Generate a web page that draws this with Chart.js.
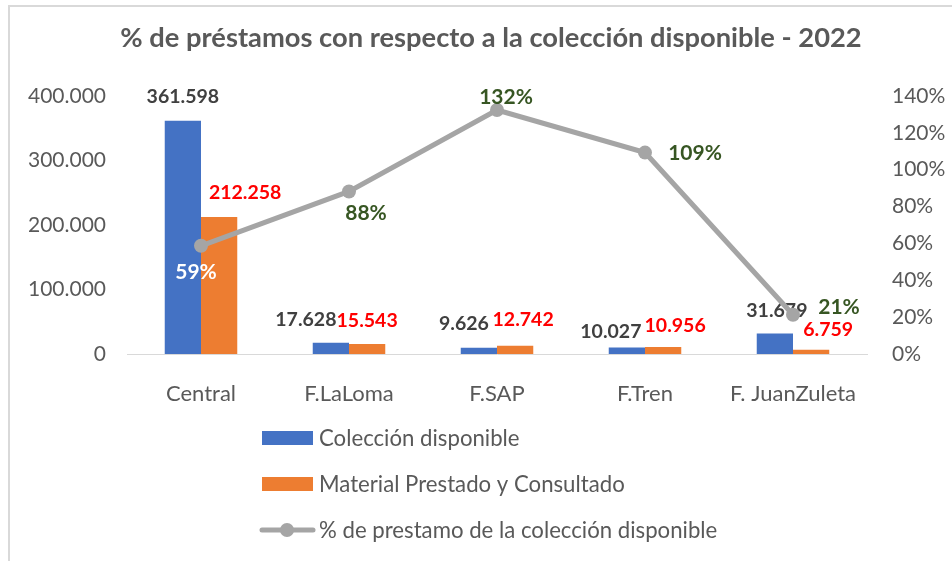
<!DOCTYPE html>
<html>
<head>
<meta charset="utf-8">
<script src="https://cdn.jsdelivr.net/npm/chart.js@4.4.1/dist/chart.umd.min.js"></script>
<style>
    html, body { margin: 0; padding: 0; background: #fff; overflow: hidden; }
    #wrap { position: relative; width: 952px; height: 561px; }
    #frame { position: absolute; left: 8px; top: 5px; width: 960px; height: 580px; border: 2px solid #d9d9d9; }
    #myChart { position: absolute; left: 0; top: 0; }
</style>
</head>
<body>
<div id="wrap">
    <div id="frame"></div>
    <canvas id="myChart" width="952" height="561"></canvas>
</div>
<script>
// Chart data
var categories = ["Central", "F.LaLoma", "F.SAP", "F.Tren", "F. JuanZuleta"];
var coleccion = [361598, 17628, 9626, 10027, 31679];
var prestado = [212258, 15543, 12742, 10956, 6759];
var porcentaje = [58.7, 88.2, 132.4, 109.3, 21.3];

var titleText = "% de préstamos con respecto a la colección disponible - 2022";
var seriesNames = ["Colección disponible", "Material Prestado y Consultado", "% de prestamo de la colección disponible"];

var FONT = "Lato, 'Open Sans', sans-serif";
var GREY_TEXT = "#595959";

// Spanish thousands format: 361598 -> 361.598
function fmt(n) {
    return n.toString().replace(/\B(?=(\d{3})+(?!\d))/g, ".");
}

// label style and offsets (px) from each mark, keyed by dataset index
var labelStyle = {
    1: { color: "#404040", size: 19.5, offsets: [[0, -24], [-25, -23], [-15, -24], [-16, -16], [2, -23]] },
    2: { color: "#ff0000", size: 19.5, offsets: [[26, -24], [0, -23], [8, -26], [12, -21], [17, -20]] },
    0: { color: "#375623", size: 21, offsets: [[-5, 26], [17, 22], [9, -13], [50, 1], [46, -8]] }
};

// legend order follows the picture (bars first)
var legendOrder = [1, 2, 0];

// Draws the data labels right after each dataset, so the line covers bar labels
var labelPlugin = {
    id: "labels",
    afterDatasetDraw(chart, args) {
        var ctx = chart.ctx;
        var ds = chart.data.datasets[args.index];
        var st = labelStyle[args.index];
        ctx.save();
        ctx.textAlign = "center";
        ctx.textBaseline = "middle";
        ctx.font = "bold " + st.size + "px " + FONT;
        args.meta.data.forEach((el, i) => {
            var off = st.offsets[i];
            var text = ds.type === "line" ? Math.round(ds.data[i]) + "%" : fmt(ds.data[i]);
            ctx.fillStyle = (ds.type === "line" && i === 0) ? "#ffffff" : st.color;
            ctx.fillText(text, el.x + off[0], el.y + off[1]);
        });
        ctx.restore();
    }
};

// Title and vertical legend
var decorPlugin = {
    id: "decor",
    afterDraw(chart) {
        var ctx = chart.ctx;
        ctx.save();
        ctx.fillStyle = GREY_TEXT;
        ctx.font = "bold 27.3px " + FONT;
        ctx.textAlign = "center";
        ctx.textBaseline = "middle";
        ctx.fillText(titleText, 491, 38);

        ctx.font = "22.2px " + FONT;
        ctx.textAlign = "left";
        legendOrder.forEach((dsIndex, i) => {
            var ds = chart.data.datasets[dsIndex];
            var y = 438 + i * 46;
            if (ds.type === "line") {
                ctx.strokeStyle = ds.borderColor;
                ctx.lineWidth = 5;
                ctx.lineCap = "round";
                ctx.beginPath();
                ctx.moveTo(262, y);
                ctx.lineTo(313, y);
                ctx.stroke();
                ctx.fillStyle = ds.borderColor;
                ctx.beginPath();
                ctx.arc(287, y, 7, 0, Math.PI * 2);
                ctx.fill();
            } else {
                ctx.fillStyle = ds.backgroundColor;
                ctx.fillRect(262, y - 7, 51, 14);
            }
            ctx.fillStyle = GREY_TEXT;
            ctx.fillText(ds.label, 319, y + 1);
        });
        ctx.restore();
    }
};

var chartData = {
    labels: categories,
    datasets: [
        {
            type: "line",
            label: seriesNames[2],
            data: porcentaje,
            yAxisID: "y1",
            borderColor: "#a5a5a5",
            backgroundColor: "#a5a5a5",
            borderWidth: 5,
            pointRadius: 7,
            pointBackgroundColor: "#a5a5a5",
            pointBorderWidth: 0,
            order: 0
        },
        {
            type: "bar",
            label: seriesNames[0],
            data: coleccion,
            yAxisID: "y",
            backgroundColor: "#4472c4",
            order: 1
        },
        {
            type: "bar",
            label: seriesNames[1],
            data: prestado,
            yAxisID: "y",
            backgroundColor: "#ed7d31",
            order: 1
        }
    ]
};

var config = {
    type: "bar",
    data: chartData,
    options: {
        responsive: false,
        animation: false,
        layout: { padding: { top: 96, left: 0, right: 0, bottom: 157 } },
        categoryPercentage: 0.49,
        barPercentage: 1,
        plugins: {
            legend: { display: false },
            title: { display: false },
            tooltip: { enabled: false }
        },
        scales: {
            x: {
                grid: { display: false },
                border: { display: true, color: "#d9d9d9", width: 1 },
                ticks: { color: GREY_TEXT, font: { family: FONT, size: 22 }, padding: 19 },
                afterFit: s => { s.height = 50; }
            },
            y: {
                position: "left",
                min: 0,
                max: 400000,
                grid: { display: false, drawTicks: false },
                border: { display: false },
                ticks: {
                    stepSize: 100000,
                    color: GREY_TEXT,
                    font: { family: FONT, size: 21 },
                    padding: 21,
                    callback: v => fmt(v)
                },
                afterFit: s => { s.width = 127; }
            },
            y1: {
                position: "right",
                min: 0,
                max: 140,
                grid: { display: false, drawTicks: false },
                border: { display: false },
                ticks: {
                    stepSize: 20,
                    color: GREY_TEXT,
                    font: { family: FONT, size: 21 },
                    padding: 25,
                    callback: v => v + "%"
                },
                afterFit: s => { s.width = 85; }
            }
        }
    },
    plugins: [labelPlugin, decorPlugin]
};

var myChart = new Chart(document.getElementById("myChart"), config);
</script>
</body>
</html>
